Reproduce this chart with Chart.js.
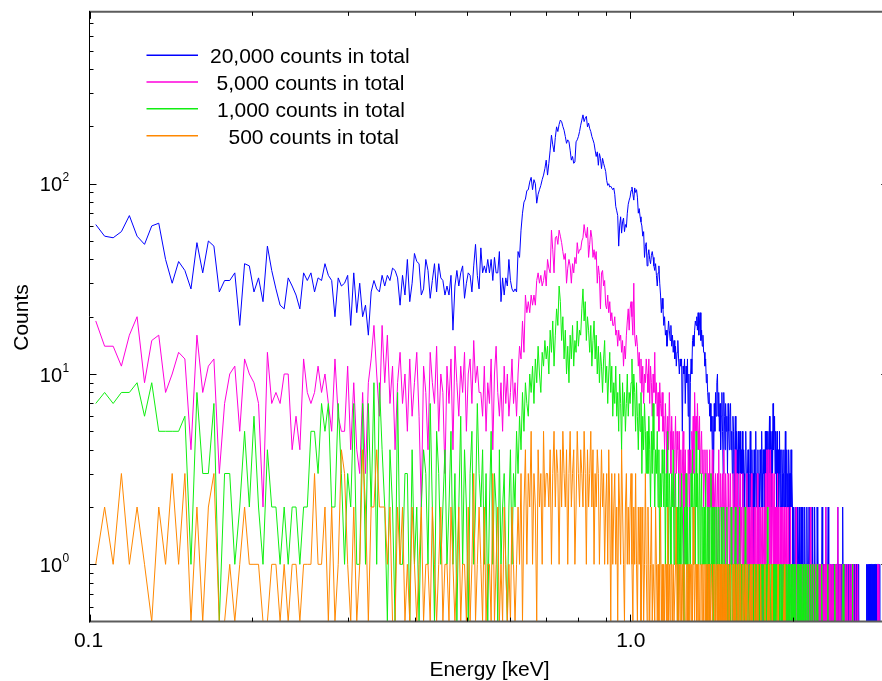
<!DOCTYPE html>
<html>
<head>
<meta charset="utf-8">
<script src="https://cdn.jsdelivr.net/npm/chart.js@4.4.1/dist/chart.umd.min.js"></script>
<style>html,body{margin:0;padding:0;background:#fff;}canvas{display:block;}</style>
</head>
<body>
<canvas id="c" width="882" height="681"></canvas>
<script>
// ---- energy grid (channel i -> E_START + i*E_STEP keV) ----
const E_START = 0.1027;
const E_STEP = 0.00395;

// ---- axis ranges and ticks ----
const X_MIN = 0.1, X_MAX = 2.921;
const Y_MIN = 0.5, Y_MAX = 800;
const xMajorTicks = [0.1, 1.0];
const xTickLabels = ['0.1', '1.0'];
const xMinorTicks = [0.2, 0.3, 0.4, 0.5, 0.6, 0.7, 0.8, 0.9, 2];
const yMajorTicks = [1, 10, 100];
const yTickExponents = ['0', '1', '2'];
const yMinorTicks = [0.6, 0.7, 0.8, 0.9, 2, 3, 4, 5, 6, 7, 8, 9, 20, 30, 40, 50, 60, 70, 80, 90, 200, 300, 400, 500, 600, 700];

// ---- series labels / colours ----
const seriesLabels = ['20,000 counts in total', '5,000 counts in total', '1,000 counts in total', '500 counts in total'];
const seriesColors = ['#0000ff', '#ff00dd', '#11ee11', '#ff8800'];

// ---- counts per channel: 20,000 counts ----
const blueSoft = [61,53,52,56,68,53,48,60,62,40,30,39,35,28,49,34,50,47,27,31,31,34,18,38,37,27,32,24,47,35,
28,23,22,32,29,26,22,34,31,34,27,32,31,38,33,31,20,32,29,
30,33,18,34,21,30,20,23,16,27,31,28,27,33,29,33,31,36,35,32,23,33,26,40,24,30,
43,39,38,26,28,40,35,25,31,38,27,38,32,31,26,29,26,33,17,29,35,29,34,37,25,30,34,33,27,37,48,33,28,
46,34,37,34,40,34,40,31,41,34,34,44,24,32,26,32,29,40,31,28,27,28,27];
const bluePeak = [44,41,57,70,80,83,92,93,102,108,93,105,100,79,88,93,98,105,111,120,133,
111,128,150,180,160,147,175,199,188,205,216,212,200,191,177,163,170,166,150,133,139,128,130,166,170,177,188,
203,216,230,212,221,226,199,208,195,188,177,170,163,150,139,147,125,144,136,120,136,128,122,116,104,98,100,96,97,95,93,
95,88,76,72,68,47,60,67,55,63,66,56,61,59,70,78,82,
85,92,96,88,82,95,90,93,85,70,74,67,63,60,53,56,41,47,49,
37,42,45,40,38,42,44,41,37,35,38,33,29,34,37,30,26,21,25,22,
18,20,16,17,14,16,19,17,15,18,14,16,13,15,12,14,11,13,15,12,10,12];
const blueTail = [11,12,5,11,10,12,7,11,9,12,6,10,
3,9,12,10,15,16,14,17,19,18,20,17,21,16,19,21,15,17,14,16,13,
13,11,12,9,10,8,7,8,6,7,5,6,4,6,3,7,5,8,6,9,
10,6,8,5,7,4,6,8,5,3,8,6,4,7,5,6,3,7,5,4,6,7,4,5,3,6,5,2,4,6,3,5,4,2,5,3,4,5,3,4,
3,5,2,4,3,2,4,5,3,2,3,4,2,1,3,5,2,3,4,2,3,1,4,2,3,5,2,3,2,4,1,3,2,4,3,2,5,3,2,4,
3,4,2,5,3,5,4,2,5,3,4,6,3,5,2,4,5,3,7,4,5,6,3,5,4,2,5,3,4,2,3,5,2,4,3,2,4,3,2,3,
4,2,3,5,2,3,4,2,3,2,4,3,1,3,2,4,2,3,2,1,
1,2,1,0,1,2,1,1,2,1,0,1,1,2,1,0,1,2,1,1,2,1,0,1,1,2,1,0,1,1,2,1,1,0,1,2,1,1,0,1,1,0,2,1,1,0,1,1,2,1,0,1,1,0,2,1,1,0,1,1,
1,0,1,1,0,1,2,1,0,1,1,0,1,0,1,2,0,1,1,0,1,2,0,1,0,1,1,0,1,0,0,1,1,0,1,0,1,1,0,1,
1,0,0,1,1,2,0,1,0,1,1,0,1,0,0,1,1,0,1,2,0,1,0,1,1,0,1,0,0,1,1,0,1,0,0,1,0,1,1,0,
0,1,0,0,1,1,0,1,0,0,1,0,1,0,0,1,1,0,0,1,0,1,
0,0,0,0,0,0,0,0,0,0,0,0,0,0,0,0,0,0,0,0,0,0,0,0,
1,0,1,1,0,1,0,1,1,0,1,1,0,1,0,1,1,0,1,0,1,0,1,1,0,1,0,1,1,0,1,0,1,0,1,1,0,1,0,1,0];

// ---- counts per channel: 5,000 counts ----
const magentaSoft = [19,14,14,11,16,20,9,15,16,8,10,13,12,4,16,8,11,12,3,7,10,11,5,12,10,9,7,2,13,7,
8,7,10,10,4,6,4,12,8,7,8,11,8,10,7,5,12,6,5,
5,11,4,9,4,3,8,3,9,12,18,10,6,18,9,16,7,11,4,9,13,7,10,5,12,6,
9,13,6,2,11,8,4,13,9,7,14,5,10,8,3,11,7,12,4,14,9,6,11,8,13,5,10,12,7,15,9,11,8,
8,6,11,5,9,7,12,4,10,14,8,6,9,5,11,7,10,6,8,12,7,9,6];
const magentaPeak = [10,14,12,19,13,26,21,24,21,26,23,26,23,31,34,30,33,29,31,35,29,
40,36,34,57,45,34,52,53,48,57,53,49,44,40,43,30,36,40,37,30,38,34,41,38,49,43,45,
45,50,52,61,55,52,59,41,48,57,52,41,45,40,44,30,37,33,22,34,35,29,31,23,22,26,21,24,19,21,18,
18,20,16,17,14,17,15,16,13,15,11,14,12,16,19,22,17,
22,24,20,16,30,16,14,16,14,11,13,9,12,8,11,7,10,9,12,
10,8,12,7,11,9,6,10,8,13,7,9,6,8,5,9,7,6,8,5,
6,4,7,5,3,6,4,8,5,3,6,4,5,2,4,6,3,5,4,3,5,2];
const magentaTail = [4,2,3,5,1,3,4,2,3,1,4,3,
2,4,3,5,4,6,3,8,5,6,4,7,5,4,6,3,4,5,3,4,2,
3,4,2,3,4,2,3,1,4,2,3,2,4,1,3,2,2,3,1,2,
3,2,4,1,2,3,2,1,3,2,4,2,1,3,2,2,1,3,2,1,2,3,1,2,1,3,2,1,2,4,1,2,3,1,2,1,2,3,1,2,
2,1,3,1,2,0,1,2,1,3,1,2,1,0,2,1,1,3,1,2,0,1,2,1,1,2,0,1,3,1,2,1,0,1,2,1,1,2,0,1,
1,2,1,3,1,2,4,1,2,4,2,3,1,4,2,1,3,2,1,2,3,1,2,1,0,2,1,3,1,2,1,0,2,1,1,2,0,1,2,1,
1,2,0,1,1,2,1,0,1,2,1,0,1,1,2,0,1,1,0,1,
0,1,1,0,1,0,2,1,0,1,1,0,0,1,0,1,1,0,1,0,0,1,0,1,1,0,0,1,0,1,1,0,1,0,0,1,0,0,2,1,0,1,0,0,1,0,1,0,0,1,0,0,1,0,1,0,0,1,0,0,
0,1,0,0,1,0,0,0,1,0,0,1,0,0,0,2,0,1,0,0,1,0,0,0,1,0,0,1,0,0,0,1,0,0,0,0,1,0,0,1,
0,0,0,1,0,0,2,0,0,0,1,0,0,1,0,0,0,0,1,0,0,0,1,0,0,0,1,0,0,0,0,1,0,0,0,0,0,1,0,0,
0,0,1,0,0,0,0,0,1,0,0,0,0,0,1,0,0,0,0,0,1,0,
0,0,0,0,0,0,0,0,0,0,0,0,0,0,0,0,0,0,0,0,0,0,0,0,0,0,0,0,0,0,0,0,0,0,0,0,0,0,0,0,0,0,0,0,0,0,0,0,0,0,0,0,0,0,0,
0,0,0,1,0,1,1,0,0,0];

// ---- counts per channel: 1,000 counts ----
const greenSoft = [7,8,7,8,8,9,6,9,5,5,5,5,6,1,8,3,3,7,0,3,3,1,2,5,2,6,2,1,4,2,
2,1,2,1,2,2,1,2,2,5,5,3,7,5,7,2,2,7,3,
1,3,2,7,1,1,7,1,7,2,9,1,9,4,2,0,4,2,0,8,1,1,3,3,0,4,
1,2,0,2,4,3,1,7,2,0,5,3,1,2,4,1,2,5,1,3,0,2,6,1,4,2,0,3,5,1,2,7,3,
2,4,1,3,0,2,5,1,3,2,0,4,1,2,3,1,0,2,4,1,3,2,5];
const greenPeak = [3,6,4,8,5,9,7,6,10,8,11,7,12,9,14,10,8,13,11,15,12,
14,10,17,13,19,11,16,22,18,29,24,15,20,12,17,10,14,9,16,12,18,11,15,13,19,14,17,
16,22,28,19,24,15,20,17,13,18,11,15,19,12,16,10,14,9,13,11,8,12,15,9,11,7,10,13,8,11,6,
9,7,11,6,8,5,10,7,4,9,6,8,5,7,10,6,8,
7,9,12,6,10,8,5,9,6,4,7,5,8,3,6,4,7,5,3,
5,3,6,4,2,5,3,7,4,2,4,3,5,2,4,1,3,2,4,3,
2,4,1,3,2,5,1,3,2,1,3,2,4,1,2,3,1,2,0,3,1,2];
const greenTail = [1,3,2,1,0,2,1,3,1,2,0,1,
2,1,3,2,4,1,2,3,1,5,2,3,1,2,4,1,2,3,1,2,1,
2,1,3,1,0,2,1,2,0,1,3,1,2,0,1,2,1,0,1,2,
1,0,2,1,1,0,2,1,0,1,2,1,0,1,1,2,0,1,0,1,1,0,2,1,0,1,1,0,1,2,0,1,0,1,1,0,2,1,0,1,
0,1,1,0,1,0,2,1,0,1,1,0,0,1,0,1,1,0,1,0,0,1,0,1,1,0,0,1,0,1,1,0,1,0,0,1,0,1,1,0,
1,0,1,0,1,1,0,2,0,1,0,1,1,0,1,0,0,1,1,0,1,0,0,1,0,1,0,0,1,0,0,1,0,0,1,0,1,0,0,1,
0,1,0,0,1,0,1,0,0,1,0,0,1,0,0,1,0,0,1,0,
0,0,1,0,0,1,0,0,0,1,0,1,0,0,0,1,0,0,1,0,0,0,1,0,0,0,1,0,0,0,1,0,0,0,1,0,0,0,0,1,0,0,0,1,0,0,0,0,1,0,0,0,0,0,1,0,0,0,0,0,
0,0,0,0,0,1,0,0,0,0,0,0,0,0,0,0,0,0,0,0,1,0,0,0,0,0,0,0,0,0,0,0,0,0,0,0,0,0,1,0,
0,0,0,0,0,0,0,0,0,0,0,0,0,0,0,0,0,0,0,0,1,0,0,0,0,0,0,0,0,0,0,0,0,0,0,0,0,0,0,0,
0,0,0,0,0,1,0,0,0,0,0,0,0,0,0,0,0,0,0,0,0,0];

// ---- counts per channel: 500 counts ----
const orangeSoft = [1,2,1,3,1,2,1,0,2,1,3,1,3,0,2,0,2,3,0,0,1,0,1,2,1,1,1,0,0,1,
1,0,1,0,1,1,0,1,1,1,3,1,1,2,0,2,0,1,4,
3,1,0,2,0,1,4,2,0,2,2,4,2,2,2,1,2,0,0,2,1,2,0,1,0,2,
1,0,1,2,0,1,1,0,2,1,0,1,2,0,1,1,0,2,1,0,1,2,0,1,1,0,2,0,1,3,0,1,2,
1,0,2,0,1,1,0,3,0,1,2,0,1,0,2,1,0,1,0,2,1,0,1];
const orangePeak = [2,1,3,0,2,4,1,3,2,5,1,3,2,0,4,2,3,1,5,2,3,
3,2,4,1,3,5,2,4,3,1,4,2,5,3,2,4,1,3,5,2,3,4,1,2,5,3,2,
4,3,2,5,3,1,4,2,3,5,2,4,1,3,2,4,3,1,2,4,2,3,1,2,3,1,4,2,0,3,1,
2,3,1,2,0,3,2,1,4,2,1,0,2,3,1,2,1,
2,3,1,0,2,1,3,1,0,2,1,2,0,1,2,0,1,3,1,
0,2,1,0,1,2,0,1,1,0,2,1,0,1,0,1,2,0,1,0,
1,0,1,1,0,2,0,1,0,1,1,0,1,0,0,1,2,0,1,0,1,0];
const orangeTail = [1,0,1,0,1,1,0,0,1,0,1,0,
1,1,0,1,0,2,1,0,1,1,0,1,0,1,0,0,1,1,0,1,0,
0,1,0,1,0,0,1,0,1,0,0,1,0,0,1,0,1,0,0,1,
0,1,0,0,1,0,1,0,0,1,0,0,1,0,1,0,0,0,1,0,0,1,0,0,0,1,0,1,0,0,0,1,0,0,1,0,0,0,1,0,
0,0,1,0,0,0,1,0,0,0,1,0,0,0,0,1,0,0,1,0,0,0,0,1,0,0,0,0,1,0,0,0,0,0,1,0,0,0,0,0,
0,0,1,0,0,0,0,0,0,1,0,0,0,0,0,0,1,0,0,0,0,0,0,0,0,0,0,0,1,0,0,0,0,0,0,0,0,0,0,0,
0,1,0,0,0,0,0,0,0,0,0,0,0,0,0,0,0,0,0,0];

const seriesCounts = [
  blueSoft.concat(bluePeak, blueTail),
  magentaSoft.concat(magentaPeak, magentaTail),
  greenSoft.concat(greenPeak, greenTail),
  orangeSoft.concat(orangePeak, orangeTail)
];

// zero counts are drawn down to the bottom of the log axis
function toPoints(counts) {
  return counts.map((c, i) => ({ x: E_START + E_STEP * i, y: c > 0 ? c : Y_MIN }));
}

const FONT = '"Liberation Sans", Arial, Helvetica, sans-serif';

const framePlugin = {
  id: 'frame',
  afterDatasetsDraw(chart) {
    const { ctx, chartArea: a } = chart;
    const xs = chart.scales.x, ys = chart.scales.y;
    ctx.save();
    // frame lines
    ctx.lineWidth = 2;
    ctx.strokeStyle = '#5c5c5c';
    ctx.beginPath();
    ctx.moveTo(a.left, a.top); ctx.lineTo(a.right, a.top);
    ctx.moveTo(a.left, a.bottom); ctx.lineTo(a.right, a.bottom);
    ctx.stroke();
    ctx.lineWidth = 1;
    ctx.strokeStyle = '#000';
    ctx.beginPath();
    ctx.moveTo(a.left, a.top - 1); ctx.lineTo(a.left, a.bottom + 1);
    ctx.stroke();

    // inward tick marks
    const xRight = xs.getPixelForValue(3.0);
    ctx.beginPath();
    const xt = (v, len) => {
      const p = Math.round(xs.getPixelForValue(v)) + 0.5;
      ctx.moveTo(p, a.bottom); ctx.lineTo(p, a.bottom - len);
      ctx.moveTo(p, a.top); ctx.lineTo(p, a.top + len);
    };
    const yt = (v, len) => {
      const p = Math.round(ys.getPixelForValue(v)) + 0.5;
      ctx.moveTo(a.left, p); ctx.lineTo(a.left + len, p);
      ctx.moveTo(xRight, p); ctx.lineTo(xRight - len, p);
    };
    xMajorTicks.forEach(v => xt(v, 7));
    xMinorTicks.forEach(v => xt(v, 4));
    yMajorTicks.forEach(v => yt(v, 7));
    yMinorTicks.forEach(v => yt(v, 4));
    ctx.stroke();

    // tick labels
    ctx.fillStyle = '#000';
    ctx.textBaseline = 'alphabetic';
    ctx.font = '21px ' + FONT;
    ctx.textAlign = 'center';
    xMajorTicks.forEach((v, k) => {
      ctx.fillText(xTickLabels[k], xs.getPixelForValue(v) + (k === 0 ? -1 : 0.5), 647);
    });
    yMajorTicks.forEach((v, k) => {
      const p = ys.getPixelForValue(v);
      ctx.font = '20px ' + FONT;
      ctx.textAlign = 'right';
      ctx.fillText('10', 62, p + 7.5);
      ctx.font = '12px ' + FONT;
      ctx.textAlign = 'left';
      ctx.fillText(yTickExponents[k], 62.5, p - 2.5);
    });

    // axis titles
    ctx.font = '21px ' + FONT;
    ctx.textAlign = 'center';
    ctx.fillText('Energy [keV]', 489.5, 675.5);
    ctx.save();
    ctx.translate(28.3, 317.5);
    ctx.rotate(-Math.PI / 2);
    ctx.fillText('Counts', 0, 0);
    ctx.restore();

    // legend
    const legendY = [55.3, 82, 108.7, 135.7];
    const legendTextX = [210, 216.5, 217, 228.5];
    seriesLabels.forEach((lab, k) => {
      ctx.strokeStyle = seriesColors[k];
      ctx.lineWidth = 1.5;
      ctx.beginPath();
      ctx.moveTo(146.5, legendY[k]); ctx.lineTo(198, legendY[k]);
      ctx.stroke();
      ctx.fillStyle = '#000';
      ctx.textAlign = 'left';
      ctx.font = '21px ' + FONT;
      ctx.fillText(lab, legendTextX[k], legendY[k] + 7.8);
    });
    ctx.restore();
  }
};

new Chart(document.getElementById('c'), {
  type: 'line',
  data: {
    datasets: seriesCounts.map((counts, k) => ({
      label: seriesLabels[k],
      data: toPoints(counts),
      borderColor: seriesColors[k],
      backgroundColor: seriesColors[k],
      borderWidth: 1,
      pointRadius: 0,
      tension: 0,
      fill: false,
      order: 4 - k
    }))
  },
  options: {
    responsive: false,
    animation: false,
    devicePixelRatio: 1,
    parsing: false,
    normalized: true,
    events: [],
    layout: { padding: { top: 11.85, left: 0, right: 0, bottom: 0 } },
    plugins: { legend: { display: false }, tooltip: { enabled: false } },
    scales: {
      x: {
        type: 'logarithmic', min: X_MIN, max: X_MAX,
        grid: { display: false, drawTicks: false },
        border: { display: false },
        ticks: { display: false },
        afterFit(s) { s.height = 681 - 621.6; }
      },
      y: {
        type: 'logarithmic', min: Y_MIN, max: Y_MAX,
        grid: { display: false, drawTicks: false },
        border: { display: false },
        ticks: { display: false },
        afterFit(s) { s.width = 89.5; }
      }
    }
  },
  plugins: [framePlugin]
});
</script>
</body>
</html>
